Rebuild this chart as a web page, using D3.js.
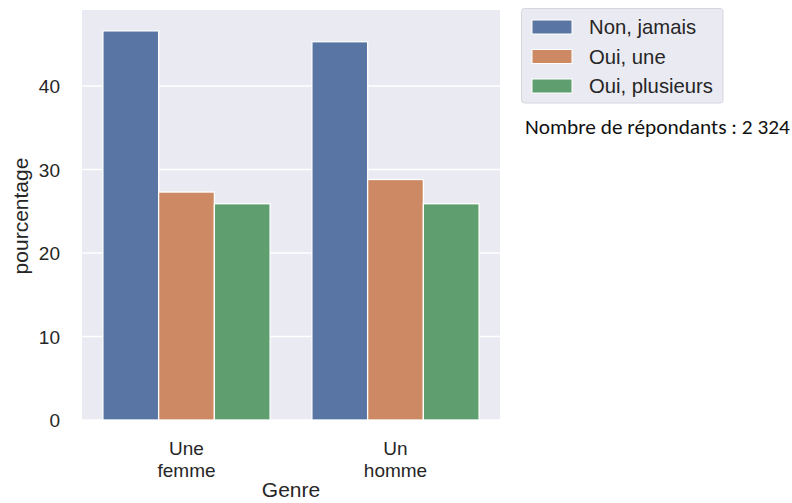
<!DOCTYPE html>
<html><head><meta charset="utf-8">
<script src="https://cdn.jsdelivr.net/npm/d3@7"></script>
<style>body{margin:0;background:#fff}</style>
</head><body>
<script>
const categories = ["Une femme", "Un homme"];
const categoryLines = [["Une", "femme"], ["Un", "homme"]];
const seriesNames = ["Non, jamais", "Oui, une", "Oui, plusieurs"];
const nonJamais = [46.6, 45.3];
const ouiUne = [27.3, 28.8];
const ouiPlusieurs = [25.9, 25.9];
const yTicks = [0, 10, 20, 30, 40];
const colors = ["#5875a4", "#cc8963", "#5f9e6e"];
const series = [nonJamais, ouiUne, ouiPlusieurs];

const W = 792, H = 503;
const svg = d3.select("body").append("svg").attr("width", W).attr("height", H);
const plot = {l: 82, r: 500, t: 10, b: 420};
const font = "'Liberation Sans', Arial, sans-serif";
const tickSize = 19, labelSize = 21, legendSize = 20.3;

svg.append("rect").attr("x", plot.l).attr("y", plot.t).attr("width", plot.r - plot.l)
  .attr("height", plot.b - plot.t).attr("fill", "#eaeaf2");

const y = d3.scaleLinear().domain([0, 49.1]).range([plot.b, plot.t]);
const x0 = d3.scaleBand().domain(categories).range([plot.l, plot.r]).paddingInner(0).paddingOuter(0);
const x1 = d3.scaleBand().domain(seriesNames).range([0, x0.bandwidth() * 0.8]);

// gridlines
svg.append("g").selectAll("line").data(yTicks).join("line")
  .attr("x1", plot.l).attr("x2", plot.r).attr("y1", d => y(d)).attr("y2", d => y(d))
  .attr("stroke", "#fff").attr("stroke-width", 1.3);

// bars
const g = svg.append("g");
series.forEach((vals, si) => {
  g.selectAll(null).data(vals).join("rect")
    .attr("x", (d, i) => x0(categories[i]) + x0.bandwidth() * 0.1 + x1(seriesNames[si]))
    .attr("y", d => y(d))
    .attr("width", x1.bandwidth())
    .attr("height", d => y(0) - y(d))
    .attr("fill", colors[si]).attr("stroke", "#fff").attr("stroke-width", 1.3);
});

// y axis
const yAxis = d3.axisLeft(y).tickValues(yTicks).tickSize(0).tickPadding(22);
const ya = svg.append("g").attr("transform", `translate(${plot.l},0)`).call(yAxis);
ya.select(".domain").remove();
ya.selectAll("text").attr("font-family", font).attr("font-size", tickSize).attr("fill", "#262626").attr("dy", "0.36em");

// x axis
const xa = svg.append("g").attr("transform", `translate(0,${plot.b})`)
  .call(d3.axisBottom(x0).tickSize(0).tickFormat(() => ""));
xa.select(".domain").remove();
xa.selectAll(".tick text").each(function(d, i) {
  const t = d3.select(this).text(null).attr("font-family", font).attr("font-size", tickSize)
    .attr("fill", "#262626").attr("y", 0).attr("dy", 0);
  categoryLines[i].forEach((ln, j) => {
    t.append("tspan").attr("x", 0).attr("y", 35 + j * 22).text(ln);
  });
});

svg.append("text").attr("x", (plot.l + plot.r) / 2).attr("y", 497).attr("text-anchor", "middle")
  .attr("font-family", font).attr("font-size", labelSize).attr("fill", "#262626").text("Genre");
svg.append("text").attr("transform", `translate(28,216) rotate(-90)`)
  .attr("text-anchor", "middle").attr("font-family", font).attr("font-size", labelSize)
  .attr("fill", "#262626").text("pourcentage");

// legend
const lg = svg.append("g");
lg.append("rect").attr("x", 521.5).attr("y", 8.5).attr("width", 201.5).attr("height", 94.5)
  .attr("rx", 3).attr("fill", "#eaeaf2").attr("stroke", "#d6d6de").attr("stroke-width", 1);
seriesNames.forEach((n, i) => {
  const cy = 27 + i * 29.5;
  lg.append("rect").attr("x", 532).attr("y", cy - 7).attr("width", 40).attr("height", 14)
    .attr("fill", colors[i]).attr("stroke", "#fff").attr("stroke-width", 1);
  lg.append("text").attr("x", 589).attr("y", cy).attr("dy", "0.36em")
    .attr("font-family", font).attr("font-size", legendSize).attr("fill", "#262626").text(n);
});

svg.append("text").attr("x", 525).attr("y", 134).attr("font-family", "Carlito, 'Open Sans', 'Noto Sans', sans-serif")
  .attr("font-size", 21.3).attr("fill", "#111").text("Nombre de répondants : 2 324");
</script>
</body></html>
